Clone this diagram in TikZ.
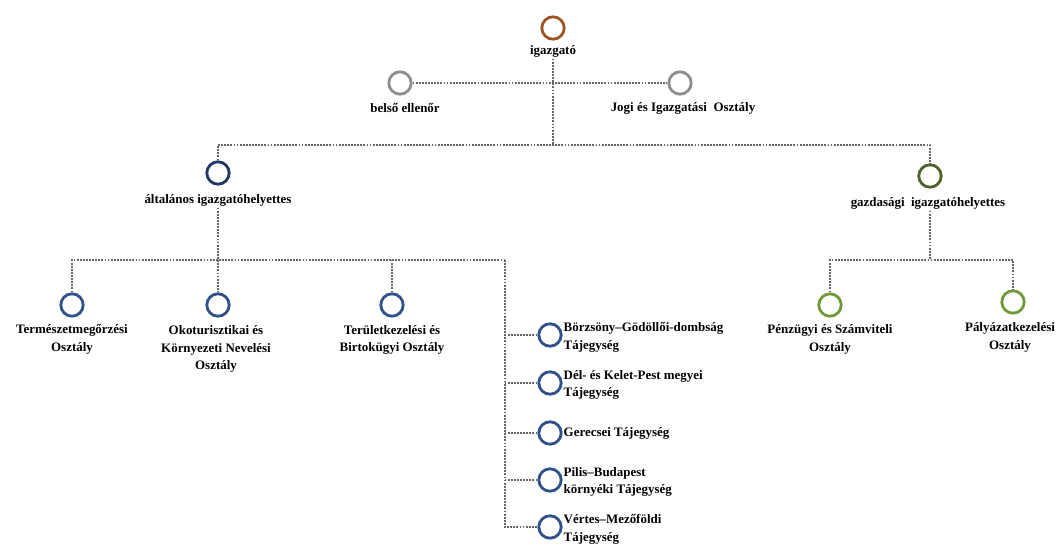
\documentclass[tikz,border=0pt]{standalone}
\usepackage{fontspec}
\setmainfont{Liberation Serif}
\usepackage{tikz}

\definecolor{barna}{HTML}{9B5523}
\definecolor{szurke}{HTML}{8E8E8E}
\definecolor{sotetkek}{HTML}{1F3864}
\definecolor{kek}{HTML}{2F5088}
\definecolor{sotetzold}{HTML}{4F6228}
\definecolor{zold}{HTML}{6E9A3A}

\begin{document}
\begin{tikzpicture}[x=0.025cm,y=-0.025cm]
      \tikzstyle{kor}=[circle,draw,line width=2pt,minimum size=0.56cm,inner sep=0pt]
      \tikzstyle{felirat}=[align=center,inner sep=1pt,font=\bfseries\fontsize{9.2}{12.7}\selectfont]
      \tikzstyle{pont}=[draw=black!60,line width=2pt,dash pattern=on 1.3pt off 0.9pt]
      \useasboundingbox (0,0) rectangle (1060,545);
      % vezetes
      \node[kor,draw=barna] (igazgato) at (553,28) {};
      \node[felirat] (igazgatoT) at (553,51) {igazgató};
      \node[kor,draw=szurke] (belso) at (400,83) {};
      \node[felirat] (belsoT) at (405,108) {belső ellenőr};
      \node[kor,draw=szurke] (jogi) at (680,83) {};
      \node[felirat] (jogiT) at (683,108) {Jogi és Igazgatási~ Osztály};
      \node[kor,draw=sotetkek] (altalanos) at (218,173) {};
      \node[felirat] (altalanosT) at (218,200) {általános igazgatóhelyettes};
      \node[kor,draw=sotetzold] (gazdasagi) at (930,176) {};
      \node[felirat] (gazdasagiT) at (928,203) {gazdasági~ igazgatóhelyettes};
      \coordinate (felso) at (553,145);
      \draw[pont] (belso) -- (jogi);
      \draw[pont] (igazgatoT) -- (felso);
      \draw[pont] (altalanos) |- (felso) -| (gazdasagi);
      % altalanos igazgatohelyettes alatt
      \node[kor,draw=kek] (termeszet) at (72,305) {};
      \node[felirat] (termeszetT) at (72,339) {Természetmegőrzési\\Osztály};
      \node[kor,draw=kek] (oko) at (218,305) {};
      \node[felirat] (okoT) at (216,349) {Okoturisztikai és\\Környezeti Nevelési\\Osztály};
      \node[kor,draw=kek] (terulet) at (392,305) {};
      \node[felirat] (teruletT) at (392,340) {Területkezelési és\\Birtokügyi Osztály};
      \coordinate (gerinc) at (505,260);
      \draw[pont] (altalanosT) -- (oko);
      \draw[pont] (termeszet) |- (gerinc);
      \draw[pont] (terulet) -- (terulet |- gerinc);
      % tajegysegek
      \node[kor,draw=kek] (taj1) at (550,335) {};
      \node[felirat,anchor=west,align=left] at (562,337) {Börzsöny–Gödöllői-dombság\\Tájegység};
      \node[kor,draw=kek] (taj2) at (550,383) {};
      \node[felirat,anchor=west,align=left] at (562,385) {Dél- és Kelet-Pest megyei\\Tájegység};
      \node[kor,draw=kek] (taj3) at (550,433) {};
      \node[felirat,anchor=west,align=left] at (562,433) {Gerecsei Tájegység};
      \node[kor,draw=kek] (taj4) at (550,480) {};
      \node[felirat,anchor=west,align=left] at (562,482) {Pilis–Budapest\\környéki Tájegység};
      \node[kor,draw=kek] (taj5) at (550,527) {};
      \node[felirat,anchor=west,align=left] at (562,529) {Vértes–Mezőföldi\\Tájegység};
      \draw[pont] (gerinc) |- (taj5);
      \foreach \i in {1,...,4}
        \draw[pont] (taj\i) -- (taj\i -| gerinc);
      % gazdasagi igazgatohelyettes alatt
      \node[kor,draw=zold] (penzugyi) at (830,305) {};
      \node[felirat] (penzugyiT) at (830,339) {Pénzügyi és Számviteli\\Osztály};
      \node[kor,draw=zold] (palyazat) at (1013,302) {};
      \node[felirat] (palyazatT) at (1010,337) {Pályázatkezelési\\Osztály};
      \coordinate (gazdB) at (930,260);
      \draw[pont] (gazdasagiT.south -| gazdB) -- (gazdB);
      \draw[pont] (penzugyi) |- (gazdB) -| (palyazat);
\end{tikzpicture}
\end{document}
